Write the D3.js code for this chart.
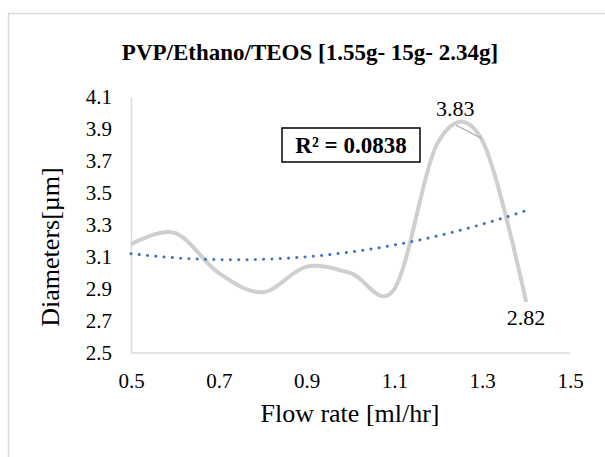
<!DOCTYPE html>
<html>
<head>
<meta charset="utf-8">
<script src="https://cdn.jsdelivr.net/npm/d3@7"></script>
<style>
  html, body { margin: 0; padding: 0; background: #fff; }
  svg { display: block; }
  svg text { font-family: "Liberation Serif", "Times New Roman", serif; fill: #000; }
</style>
</head>
<body>
<div id="chart"></div>
<script>
const flowRates = [0.5, 0.6, 0.7, 0.8, 0.9, 1.0, 1.1, 1.2, 1.3, 1.4];
const diameters = [3.18, 3.25, 3.00, 2.88, 3.04, 3.00, 2.90, 3.82, 3.83, 2.82];
const xTicks = [0.5, 0.7, 0.9, 1.1, 1.3, 1.5];
const yTicks = [2.5, 2.7, 2.9, 3.1, 3.3, 3.5, 3.7, 3.9, 4.1];
const labelled = [8, 9];   // indices that carry a data label
const chartTitle = 'PVP/Ethano/TEOS [1.55g- 15g- 2.34g]';
const xTitle = 'Flow rate [ml/hr]';
const yTitle = 'Diameters[µm]';
const r2Text = 'R² = 0.0838';

const FONT = 'Liberation Serif, Times New Roman, serif';
const width = 605, height = 457;
const margin = { top: 97, right: 35, bottom: 104, left: 131 };

const svg = d3.select('#chart').append('svg')
  .attr('width', width)
  .attr('height', height)
  .attr('font-family', FONT);

// outer chart border (runs off the right and bottom)
svg.append('rect')
  .attr('x', 8.5).attr('y', 13.5)
  .attr('width', 640).attr('height', 480)
  .attr('fill', '#fff')
  .attr('stroke', '#d9d9d9')
  .attr('stroke-width', 1.5);

const x = d3.scaleLinear().domain([0.5, 1.5]).range([margin.left, width - margin.right]);
const y = d3.scaleLinear().domain([2.5, 4.1]).range([height - margin.bottom, margin.top]);

// axes
const xAxis = d3.axisBottom(x).tickValues(xTicks).tickSize(0).tickPadding(20)
  .tickFormat(d3.format('.1f'));
const yAxis = d3.axisLeft(y).tickValues(yTicks).tickSize(0).tickPadding(19)
  .tickFormat(d3.format('.1f'));

const gx = svg.append('g')
  .attr('transform', 'translate(0,' + y(2.5) + ')')
  .call(xAxis);
const gy = svg.append('g')
  .attr('transform', 'translate(' + x(0.5) + ',0)')
  .call(yAxis);

[gx, gy].forEach(g => {
  g.attr('font-family', FONT).attr('font-size', 21);
  g.select('.domain').attr('stroke', '#d9d9d9').attr('stroke-width', 1.5);
  g.selectAll('text').attr('fill', '#000');
});
gx.select('.domain').attr('d', 'M' + x(0.5) + ',0H' + x(1.5));

// trendline: 2nd order polynomial least squares on the series
function polyFit2 (xs, ys) {
  const s = [0, 0, 0, 0, 0], t = [0, 0, 0];
  xs.forEach((xi, i) => {
    for (let k = 0; k < 5; k++) s[k] += Math.pow(xi, k);
    for (let k = 0; k < 3; k++) t[k] += Math.pow(xi, k) * ys[i];
  });
  const m = [[s[0], s[1], s[2], t[0]], [s[1], s[2], s[3], t[1]], [s[2], s[3], s[4], t[2]]];
  for (let c = 0; c < 3; c++) {
    for (let r = c + 1; r < 3; r++) {
      const f = m[r][c] / m[c][c];
      for (let k = c; k < 4; k++) m[r][k] -= f * m[c][k];
    }
  }
  const b = [0, 0, 0];
  for (let r = 2; r >= 0; r--) {
    let v = m[r][3];
    for (let k = r + 1; k < 3; k++) v -= m[r][k] * b[k];
    b[r] = v / m[r][r];
  }
  return xv => b[0] + b[1] * xv + b[2] * xv * xv;
}
const fit = polyFit2(flowRates, diameters);
const x0 = flowRates[0], x1 = flowRates[flowRates.length - 1];
const trendPts = d3.range(0, 101).map(i => {
  const xv = x0 + (x1 - x0) * i / 100;
  return [xv, fit(xv)];
});

// main series, smoothed
const line = d3.line()
  .x((d, i) => x(flowRates[i]))
  .y(d => y(d))
  .curve(d3.curveCatmullRom.alpha(0));

svg.append('path')
  .datum(diameters)
  .attr('d', line)
  .attr('fill', 'none')
  .attr('stroke', '#d0cece')
  .attr('stroke-width', 4)
  .attr('stroke-linejoin', 'round');

svg.append('path')
  .datum(trendPts)
  .attr('d', d3.line().x(d => x(d[0])).y(d => y(d[1])))
  .attr('fill', 'none')
  .attr('stroke', '#4472c4')
  .attr('stroke-width', 3)
  .attr('stroke-linecap', 'round')
  .attr('stroke-dasharray', '0.1 8.2');

// data labels
const peak = labelled[0], last = labelled[1];
const px = x(flowRates[peak]), py = y(diameters[peak]);
svg.append('line')
  .attr('x1', px - 26).attr('y1', py - 15)
  .attr('x2', px - 1).attr('y2', py - 2)
  .attr('stroke', '#a6a6a6')
  .attr('stroke-width', 1.2);
svg.append('text')
  .attr('x', px - 27).attr('y', py - 24)
  .attr('text-anchor', 'middle')
  .attr('font-size', 22)
  .text(diameters[peak].toFixed(2));
svg.append('text')
  .attr('x', x(flowRates[last])).attr('y', y(diameters[last]) + 23)
  .attr('text-anchor', 'middle')
  .attr('font-size', 22)
  .text(diameters[last].toFixed(2));

// R² box
const rb = svg.append('g').attr('transform', 'translate(282,128)');
rb.append('rect')
  .attr('width', 138).attr('height', 34)
  .attr('fill', '#fff')
  .attr('stroke', '#000')
  .attr('stroke-width', 1.5);
rb.append('text')
  .attr('x', 69).attr('y', 25)
  .attr('text-anchor', 'middle')
  .attr('font-size', 23)
  .attr('font-weight', 'bold')
  .text(r2Text);

// titles
svg.append('text')
  .attr('x', 310).attr('y', 60)
  .attr('text-anchor', 'middle')
  .attr('font-size', 23)
  .attr('font-weight', 'bold')
  .text(chartTitle);

svg.append('text')
  .attr('x', 350).attr('y', 422)
  .attr('text-anchor', 'middle')
  .attr('font-size', 26)
  .text(xTitle);

svg.append('text')
  .attr('transform', 'translate(59,247) rotate(-90)')
  .attr('text-anchor', 'middle')
  .attr('font-size', 26)
  .text(yTitle);
</script>
</body>
</html>
